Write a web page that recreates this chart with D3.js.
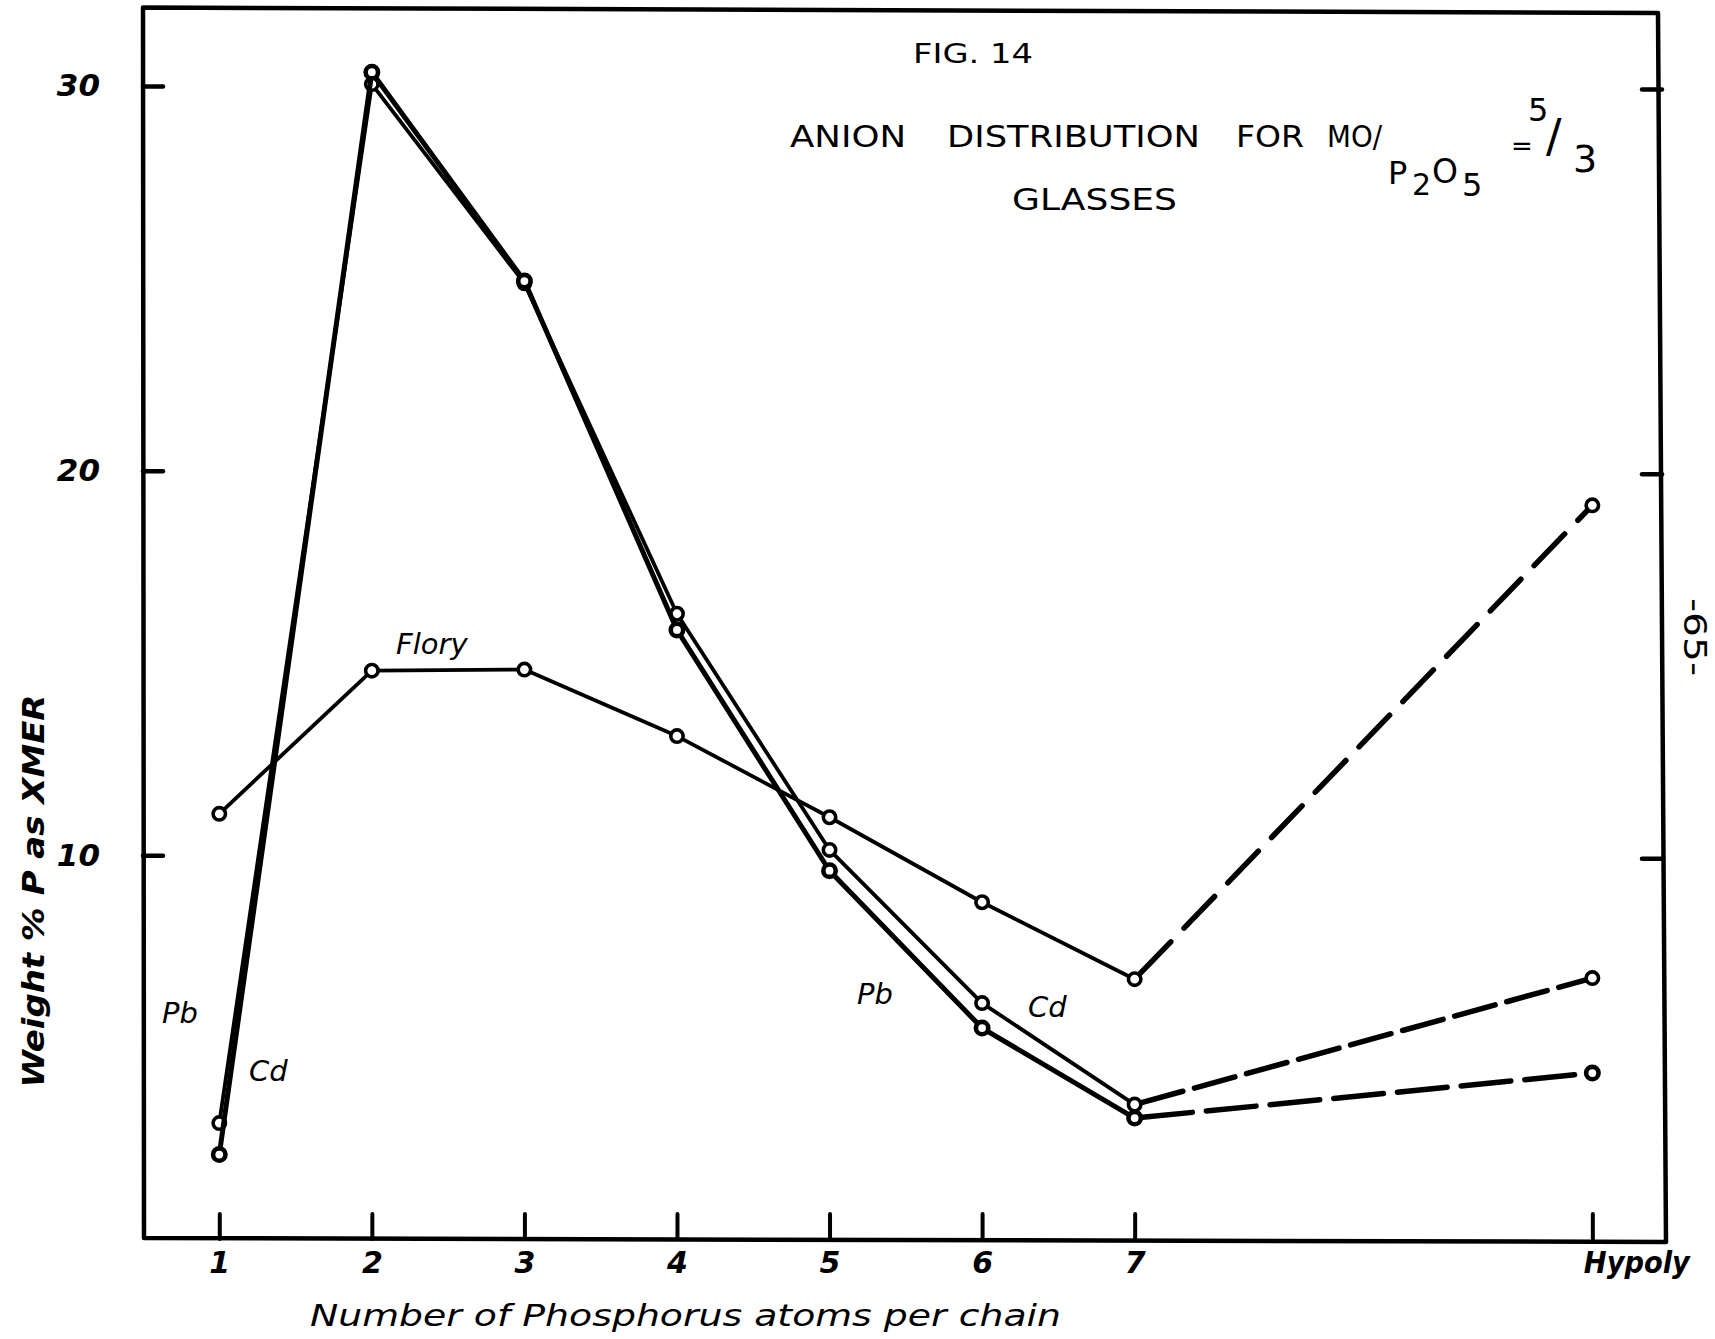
<!DOCTYPE html>
<html>
<head>
<meta charset="utf-8">
<script src="https://cdn.jsdelivr.net/npm/d3@7"></script>
<style>
  html, body { margin: 0; padding: 0; background: #fff; }
  svg { display: block; }
  text { fill: #000; }
</style>
</head>
<body>
<svg id="chart" width="1715" height="1339"></svg>
<script>
// Chain-length categories and their positions along the x axis
const categories = ["1", "2", "3", "4", "5", "6", "7", "Hypoly"];
const chainPos = [1, 2, 3, 4, 5, 6, 7, 10];

// Weight % P present as each x-mer
const floryValues = [11.08, 14.80, 14.83, 13.10, 10.99, 8.78, 6.78, 19.10];
const pbValues    = [2.22, 30.36, 24.93, 15.86, 9.60, 5.51, 3.17, 4.34];
const cdValues    = [3.04, 30.05, 24.87, 16.28, 10.14, 6.16, 3.52, 6.81];

const yTicks = [10, 20, 30];

const svg = d3.select("#chart");

const x = d3.scaleLinear().domain([0.5, 10.45]).range([143, 1661]);
const y = d3.scaleLinear().domain([0, 30]).range([1240, 86]);

const ink = "#000";
const labelFont = "'DejaVu Sans', 'Liberation Sans', sans-serif";

// Frame of the plot
svg.append("path")
  .attr("d", `M${x(0.5)},${y(32.04)} L${x(10.45) - 3},${y(31.9)} L${x(10.45) + 5},${y(-0.05)} L${x(0.5) + 1},${y(0.05)} Z`)
  .attr("fill", "none")
  .attr("stroke", ink)
  .attr("stroke-width", 4.5)
  .attr("stroke-linejoin", "round");

// Left axis: inward ticks with italic numerals
const leftAxis = svg.append("g")
  .attr("transform", `translate(${x(0.5)},0)`)
  .call(d3.axisLeft(y).tickValues(yTicks).tickSizeInner(-20).tickSizeOuter(0).tickPadding(43));
leftAxis.select(".domain").remove();
leftAxis.selectAll(".tick line").attr("stroke", ink).attr("stroke-width", 4.5).attr("stroke-linecap", "round");
leftAxis.selectAll(".tick text")
  .attr("font-family", labelFont).attr("font-style", "italic").attr("font-weight", "bold")
  .attr("font-size", 31).attr("fill", ink);

// Right axis: ticks only
const rightAxis = svg.append("g")
  .attr("transform", `translate(${x(10.45) + 1},3)`)
  .call(d3.axisRight(y).tickValues(yTicks).tickSizeInner(-20).tickSizeOuter(0).tickFormat(""));
rightAxis.select(".domain").remove();
rightAxis.selectAll(".tick line").attr("stroke", ink).attr("stroke-width", 4.5).attr("stroke-linecap", "round");

// Bottom axis: upward ticks with category names
const bottomAxis = svg.append("g")
  .attr("transform", `translate(0,${y(0) - 1})`)
  .call(d3.axisBottom(x).tickValues(chainPos).tickSizeInner(-25).tickSizeOuter(0).tickPadding(13)
    .tickFormat((d, i) => categories[i]));
bottomAxis.select(".domain").remove();
bottomAxis.selectAll(".tick line").attr("stroke", ink).attr("stroke-width", 4).attr("stroke-linecap", "round");
bottomAxis.selectAll(".tick text")
  .attr("font-family", labelFont).attr("font-style", "italic").attr("font-weight", "bold")
  .attr("font-size", 30).attr("fill", ink);
bottomAxis.selectAll(".tick text").filter((d, i) => categories[i] === "Hypoly")
  .attr("text-anchor", "start").attr("x", -9)
  .attr("textLength", 106).attr("lengthAdjust", "spacingAndGlyphs");

// Series: solid through 7, dashed out to the hypoly point
const line = d3.line().x(d => x(d[0])).y(d => y(d[1]));
const series = [
  { name: "Flory", values: floryValues, width: 3.8, dash: "44,19", heavy: false },
  { name: "Cd",    values: cdValues,    width: 3.8, dash: "42,12", heavy: false },
  { name: "Pb",    values: pbValues,    width: 5.0, dash: "50,14", heavy: true }
];

series.forEach(s => {
  const pts = chainPos.map((p, i) => [p, s.values[i]]);
  const g = svg.append("g").attr("class", "series-" + s.name);
  g.append("path")
    .attr("d", line(pts.slice(0, 7)))
    .attr("fill", "none").attr("stroke", ink).attr("stroke-width", s.width)
    .attr("stroke-linejoin", "round").attr("stroke-linecap", "round");
  g.append("path")
    .attr("d", line(pts.slice(6)))
    .attr("fill", "none").attr("stroke", ink).attr("stroke-width", 5.5)
    .attr("stroke-dasharray", s.dash).attr("stroke-dashoffset", -8)
    .attr("stroke-linecap", "round");
  g.selectAll("circle").data(pts).join("circle")
    .attr("cx", d => x(d[0])).attr("cy", d => y(d[1]))
    .attr("r", 6.2)
    .attr("fill", "#fff").attr("stroke", ink)
    .attr("stroke-width", s.heavy ? 4.6 : 3.6);
});

// Curve labels
const curveLabels = [
  { text: "Flory", x: 396, y: 654 },
  { text: "Pb", x: 162, y: 1023 },
  { text: "Cd", x: 249, y: 1081 },
  { text: "Pb", x: 857, y: 1004 },
  { text: "Cd", x: 1028, y: 1017 }
];
svg.selectAll("text.curve-label").data(curveLabels).join("text")
  .attr("class", "curve-label")
  .attr("x", d => d.x).attr("y", d => d.y)
  .attr("font-family", labelFont).attr("font-style", "italic")
  .attr("font-size", 29)
  .text(d => d.text);

// Title block
const title = svg.append("g").attr("font-family", labelFont).attr("font-size", 30);
title.append("text").attr("x", 913).attr("y", 63).attr("font-size", 27)
  .attr("textLength", 120).attr("lengthAdjust", "spacingAndGlyphs").text("FIG. 14");
[["ANION", 790, 116], ["DISTRIBUTION", 947, 253], ["FOR", 1236, 68], ["MO/", 1327, 55]]
  .forEach(([t, tx, w]) => title.append("text").attr("x", tx).attr("y", 147)
    .attr("textLength", w).attr("lengthAdjust", "spacingAndGlyphs").text(t));
title.append("text").attr("x", 1388).attr("y", 184).attr("font-size", 32).text("P");
title.append("text").attr("x", 1412).attr("y", 195).attr("font-size", 30).text("2");
title.append("text").attr("x", 1432).attr("y", 183).attr("font-size", 33).text("O");
title.append("text").attr("x", 1462).attr("y", 196).attr("font-size", 32).text("5");
title.append("text").attr("x", 1511).attr("y", 155).attr("font-size", 26).text("=");
title.append("text").attr("x", 1528).attr("y", 121).attr("font-size", 32).text("5");
title.append("text").attr("x", 1546).attr("y", 152).attr("font-size", 46).text("/");
title.append("text").attr("x", 1573).attr("y", 172).attr("font-size", 38).text("3");
title.append("text").attr("x", 1012).attr("y", 210).attr("font-size", 30)
  .attr("textLength", 165).attr("lengthAdjust", "spacingAndGlyphs").text("GLASSES");

// Axis titles
svg.append("text")
  .attr("transform", "translate(44,891) rotate(-90)")
  .attr("text-anchor", "middle")
  .attr("font-family", labelFont).attr("font-style", "italic").attr("font-weight", "bold")
  .attr("font-size", 30)
  .attr("textLength", 393).attr("lengthAdjust", "spacingAndGlyphs")
  .text("Weight % P as XMER");

svg.append("text")
  .attr("x", 310).attr("y", 1326)
  .attr("font-family", labelFont).attr("font-style", "italic")
  .attr("font-size", 30)
  .attr("textLength", 751).attr("lengthAdjust", "spacingAndGlyphs")
  .text("Number of Phosphorus atoms per chain");

// Page number in the margin
svg.append("text")
  .attr("transform", "translate(1684,637) rotate(90)")
  .attr("text-anchor", "middle")
  .attr("font-family", labelFont).attr("font-size", 32)
  .attr("textLength", 78).attr("lengthAdjust", "spacingAndGlyphs")
  .text("-65-");
</script>
</body>
</html>
